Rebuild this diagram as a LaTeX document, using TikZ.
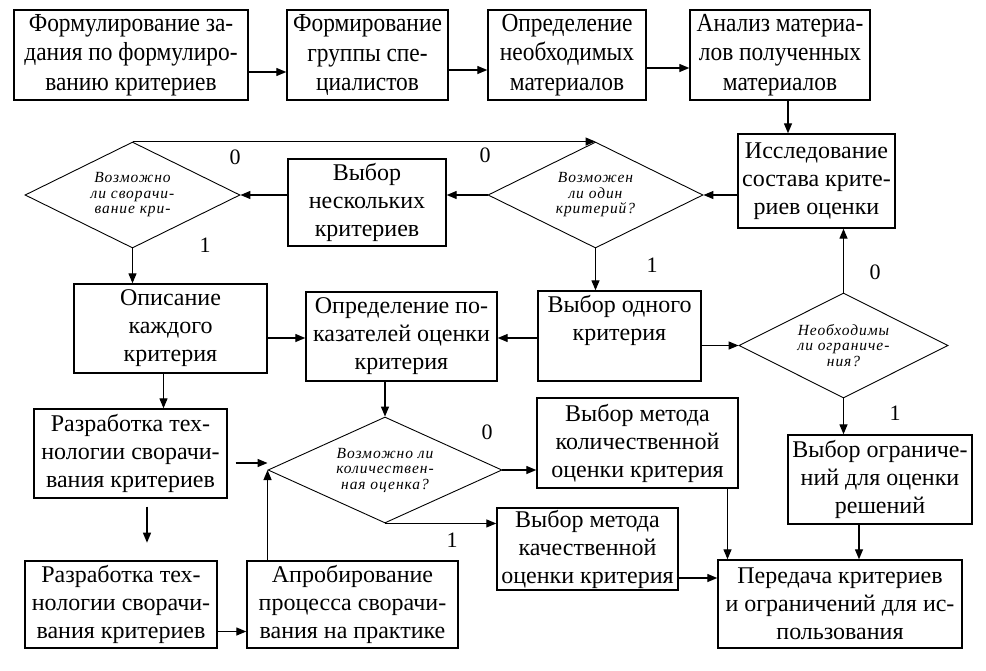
\documentclass[tikz,border=0pt]{standalone}
\usepackage{fontspec}
\setmainfont{Liberation Serif}
\newfontfamily\condfont{Liberation Serif}[FakeStretch=0.9]
\newfontfamily\diafont{Liberation Serif}[LetterSpace=6]
\usetikzlibrary{shapes.geometric,arrows.meta}
\tikzset{
  box/.style={draw, line width=1.4pt, inner sep=0pt, align=center,
    font=\fontsize{24}{28}\selectfont},
  topbox/.style={box, font=\condfont\fontsize{26}{29.5}\selectfont},
  dia/.style={draw, line width=0.9pt, diamond, aspect=2, inner sep=0pt, align=center,
    font=\diafont\itshape\fontsize{15.5}{15.5}\selectfont},
  arr/.style={line width=1.3pt, -{Triangle[length=10pt,width=8pt]}},
  lab/.style={font=\fontsize{22}{22}\selectfont, inner sep=0pt}
}
\begin{document}
\begin{tikzpicture}[x=1pt,y=-1pt]
\useasboundingbox[fill=white] (0,0) rectangle (986,670);
% top row
\node[topbox, minimum width=234pt, minimum height=90pt] (b1) at (131,55) {Формулирование за-\\дания по формулиро-\\ванию критериев};
\node[topbox, minimum width=161pt, minimum height=90pt] (b2) at (367.5,55) {Формирование\\группы спе-\\циалистов};
\node[topbox, minimum width=158pt, minimum height=90pt] (b3) at (567,55) {Определение\\необходимых\\материалов};
\node[topbox, minimum width=180pt, minimum height=90pt] (b4) at (780,55) {Анализ материа-\\лов полученных\\материалов};
% boxes
\node[box, minimum width=157pt, minimum height=94pt] (b5) at (816.5,181) {Исследование\\состава крите-\\риев оценки};
\node[box, minimum width=158pt, minimum height=87pt] (nb) at (367,202.5) {Выбор\\нескольких\\критериев};
\node[box, minimum width=193pt, minimum height=89pt] (ok) at (170.5,328.5) {Описание\\каждого\\критерия};
\node[box, minimum width=191pt, minimum height=89pt] (opr) at (401.5,336.5) {Определение по-\\казателей оценки\\критерия};
\node[box, minimum width=163pt, minimum height=90pt] (one) at (619.5,336) {Выбор одного\\критерия\\\strut};
\node[box, minimum width=184pt, minimum height=89pt] (ogr) at (880,479.5) {Выбор ограниче-\\ний для оценки\\решений};
\node[box, minimum width=193pt, minimum height=89pt] (r1) at (130.5,453.5) {Разработка тех-\\нологии сворачи-\\вания критериев};
\node[box, minimum width=201pt, minimum height=90pt] (kol) at (637.5,443) {Выбор метода\\количественной\\оценки критерия};
\node[box, minimum width=181pt, minimum height=82pt] (kach) at (587.5,549) {Выбор метода\\качественной\\оценки критерия};
\node[box, minimum width=192pt, minimum height=87pt] (r2) at (121,604.5) {Разработка тех-\\нологии сворачи-\\вания критериев};
\node[box, minimum width=211pt, minimum height=87pt] (apr) at (352.5,604.5) {Апробирование\\процесса сворачи-\\вания на практике};
\node[box, minimum width=244pt, minimum height=88pt] (per) at (840,604) {Передача критериев\\и ограничений для ис-\\пользования};
% diamonds
\node[dia, minimum width=215pt, minimum height=106pt] (d1) at (132.5,195) {Возможно\\ли сворачи-\\вание кри-};
\node[dia, minimum width=215pt, minimum height=106pt] (d2) at (595.5,195) {Возможен\\ли один\\критерий?};
\node[dia, minimum width=209pt, minimum height=105pt] (d3) at (843.5,345.5) {Необходимы\\ли ограниче-\\ния?};
\node[dia, minimum width=234pt, minimum height=106pt] (d4) at (385,470) {Возможно ли\\количествен-\\ная оценка?};
% labels
\node[lab] (l1) at (235,157) {0};
\node[lab] (l2) at (485,155) {0};
\node[lab] (l3) at (205,245) {1};
\node[lab] (l4) at (652,265) {1};
\node[lab] (l5) at (875,272) {0};
\node[lab] (l6) at (895,413) {1};
\node[lab] (l7) at (487,432) {0};
\node[lab] (l8) at (452,540) {1};
% helper coordinates
\coordinate (t1) at ([yshift=-17pt]b1.east);
\coordinate (t2) at ([yshift=-15pt]b2.east);
\coordinate (t3) at ([yshift=-13pt]b3.east);
\coordinate (p1) at ([xshift=8pt]b4.south);
\coordinate (p2) at ([yshift=-9.5pt]ok.east);
\coordinate (p3) at ([yshift=-2pt]one.west);
\coordinate (p4) at ([xshift=-7pt]ok.south);
\coordinate (fa1) at ([xshift=16.5pt,yshift=-8pt]r1.south);
\coordinate (fa2) at ([yshift=-36pt]fa1);
\coordinate (p5) at ([xshift=8pt,yshift=-9.5pt]r1.east);
\coordinate (p6) at ([yshift=-29pt]kach.east);
\coordinate (p7) at ([xshift=90pt]kol.south);
\coordinate (p8) at ([yshift=-27pt]r2.east);
\coordinate (p9) at ([xshift=-21pt]ogr.south);
% connectors
\draw[arr] (t1) -- (t1 -| b2.west);
\draw[arr] (t2) -- (t2 -| b3.west);
\draw[arr] (t3) -- (t3 -| b4.west);
\draw[arr] (p1) -- (p1 |- b5.north);
\draw[arr] (b5.west |- d2.east) -- (d2.east);
\draw[arr] (d2.west) -- (d2.west -| nb.east);
\draw[arr] (nb.west |- d1.east) -- (d1.east);
\draw[arr] (d1.north) -- (d2.north);
\draw[arr] (d1.south) -- (d1.south |- ok.north);
\draw[arr] (d2.south) -- (d2.south |- one.north);
\draw[arr] (p2) -- (p2 -| opr.west);
\draw[arr] (p3) -- (p3 -| opr.east);
\draw[arr] (one.east |- d3.west) -- (d3.west);
\draw[arr] (d3.north) -- (d3.north |- b5.south);
\draw[arr] (d3.south) -- (d3.south |- ogr.north);
\draw[arr] (p9) -- (p9 |- per.north);
\draw[arr] (p4) -- (p4 |- r1.north);
\draw[arr] (fa1) -- (fa2);
\draw[arr] (d4.north |- opr.south) -- (d4.north);
\draw[arr] (p5) -- (p5 -| d4.west);
\draw[arr] (d4.west |- apr.north) -- (d4.west);
\draw[arr] (d4.east) -- (d4.east -| kol.west);
\draw[arr] (d4.south) -- (d4.south -| kach.west);
\draw[arr] (p6) -- (p6 -| per.west);
\draw[arr] (p7) -- (p7 |- per.north);
\draw[arr] (p8) -- (p8 -| apr.west);
\end{tikzpicture}
\end{document}
